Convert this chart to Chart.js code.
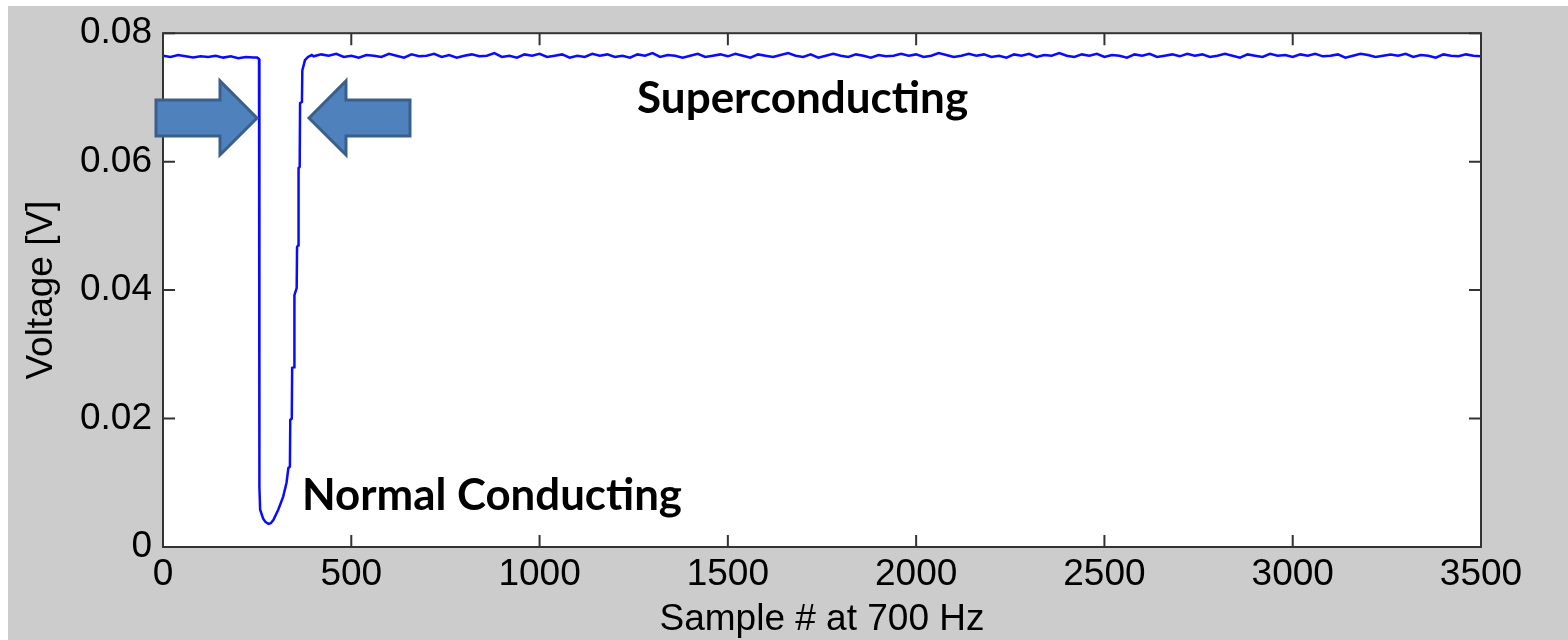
<!DOCTYPE html>
<html>
<head>
<meta charset="utf-8">
<script src="https://cdn.jsdelivr.net/npm/chart.js@4.4.0/dist/chart.umd.min.js"></script>
<style>
  html, body { margin: 0; padding: 0; background: #fff; }
  canvas { display: block; }
</style>
</head>
<body>
<canvas id="myChartQuench" width="1568" height="640"></canvas>
<script>
// axis ticks
const xTicks = [0, 500, 1000, 1500, 2000, 2500, 3000, 3500];
const yTicks = [0, 0.02, 0.04, 0.06, 0.08];

// trace (voltage in mV)
const flatStep = 20;
const leftVolts_mV = [76.5, 76.3, 76.6, 76.4, 76.2, 76.4, 76.3, 76.5, 76.2, 76.4, 76.1, 76.3, 76.2];

const dipSamples = [250, 255, 256, 258, 266, 272, 280, 286, 293, 306, 319, 328, 333, 337, 338,
  342, 343, 348, 349, 355, 356, 359, 360, 363, 364, 369, 370, 377, 385, 395];
const dipVolts_mV = [76.2, 76.0, 9.3, 5.8, 4.4, 3.9, 3.6, 3.7, 4.2, 5.8, 7.8, 10.0, 12.3, 12.5, 19.8,
  20.0, 27.9, 28.0, 39.2, 40.3, 46.7, 47.0, 59.0, 59.2, 69.1, 69.3, 74.2, 75.8, 76.3, 76.6];

const rightStart = 400;
const rightVolts_mV = [
  76.4, 76.7, 76.5, 76.8, 76.3, 76.5, 76.2, 76.6, 76.5, 76.3, 76.8, 76.5, 76.2,
  76.7, 76.4, 76.5, 76.8, 76.3, 76.6, 76.2, 76.5, 76.7, 76.4, 76.5, 76.9, 76.3,
  76.5, 76.2, 76.7, 76.5, 76.8, 76.3, 76.5, 76.7, 76.2, 76.5, 76.3, 76.8, 76.5,
  76.7, 76.3, 76.5, 76.2, 76.7, 76.5, 76.9, 76.3, 76.6, 76.5, 76.2, 76.5, 76.8,
  76.3, 76.5, 76.7, 76.4, 76.8, 76.5, 76.2, 76.7, 76.5, 76.3, 76.6, 76.9, 76.5,
  76.3, 76.7, 76.2, 76.5, 76.8, 76.5, 76.3, 76.7, 76.5, 76.2, 76.6, 76.4, 76.5,
  76.8, 76.5, 76.7, 76.3, 76.5, 76.9, 76.6, 76.3, 76.5, 76.8, 76.5, 76.7, 76.3,
  76.5, 76.2, 76.7, 76.5, 76.8, 76.3, 76.6, 76.5, 76.9, 76.5, 76.3, 76.7, 76.5,
  76.8, 76.3, 76.6, 76.5, 76.2, 76.7, 76.5, 76.8, 76.3, 76.5, 76.7, 76.4, 76.8,
  76.5, 76.7, 76.3, 76.5, 76.8, 76.5, 76.2, 76.7, 76.5, 76.3, 76.8, 76.5, 76.6,
  76.3, 76.7, 76.5, 76.8, 76.4, 76.5, 76.7, 76.2, 76.5, 76.8, 76.6, 76.3, 76.5,
  76.7, 76.5, 76.8, 76.3, 76.6, 76.5, 76.2, 76.7, 76.5, 76.4, 76.7, 76.5, 76.4
];

// text labels placed in data coordinates
const labelSuper = {text: 'Superconducting', sample: 1259, volts: 0.0675, width: 331};
const labelNormal = {text: 'Normal Conducting', sample: 369, volts: 0.00576, width: 380};
const arrowTips = [{sample: 249.6, volts: 0.0668, dir: 1}, {sample: 387.7, volts: 0.0668, dir: -1}];

const points = [];
leftVolts_mV.forEach((v, i) => points.push({x: i * flatStep, y: v / 1000}));
dipSamples.forEach((s, i) => points.push({x: s, y: dipVolts_mV[i] / 1000}));
rightVolts_mV.forEach((v, i) => points.push({x: rightStart + i * flatStep, y: v / 1000}));

const axisFont = {family: "'Liberation Sans', Arial, sans-serif", size: 37};

function drawArrow(ctx, tx, ty, dir) {
  const len = 101, head = 37, hh = 37, sh = 18;
  ctx.beginPath();
  ctx.moveTo(tx, ty);
  ctx.lineTo(tx - dir * head, ty - hh);
  ctx.lineTo(tx - dir * head, ty - sh);
  ctx.lineTo(tx - dir * len, ty - sh);
  ctx.lineTo(tx - dir * len, ty + sh);
  ctx.lineTo(tx - dir * head, ty + sh);
  ctx.lineTo(tx - dir * head, ty + hh);
  ctx.closePath();
  ctx.fillStyle = '#4f81bd';
  ctx.fill();
  ctx.lineWidth = 3;
  ctx.lineJoin = 'miter';
  ctx.strokeStyle = '#3a5f8b';
  ctx.stroke();
}

function fittedText(ctx, lbl, x, y) {
  ctx.save();
  ctx.font = "bold 43px Lato, 'Open Sans', sans-serif";
  ctx.fillStyle = '#000';
  ctx.textBaseline = 'alphabetic';
  ctx.textAlign = 'left';
  const w = ctx.measureText(lbl.text).width;
  ctx.translate(x, y);
  ctx.scale(lbl.width / w, 1);
  ctx.fillText(lbl.text, 0, 0);
  ctx.restore();
}

const framePlugin = {
  id: 'frame',
  beforeDraw(chart) {
    const {ctx, chartArea: a, width, height} = chart;
    ctx.save();
    ctx.fillStyle = '#ffffff';
    ctx.fillRect(0, 0, width, height);
    ctx.fillStyle = '#cccccc';
    ctx.fillRect(8, 6, width - 8, height - 6);
    ctx.fillStyle = '#ffffff';
    ctx.fillRect(a.left, a.top, a.right - a.left, a.bottom - a.top);
    ctx.restore();
  },
  afterDatasetsDraw(chart) {
    const {ctx, chartArea: a, scales: {x, y}} = chart;
    const tl = 12;
    ctx.save();
    ctx.strokeStyle = '#333333';
    ctx.lineWidth = 2;
    ctx.beginPath();
    xTicks.forEach(v => {
      const px = x.getPixelForValue(v);
      ctx.moveTo(px, a.bottom); ctx.lineTo(px, a.bottom - tl);
      ctx.moveTo(px, a.top); ctx.lineTo(px, a.top + tl);
    });
    yTicks.forEach(v => {
      const py = y.getPixelForValue(v);
      ctx.moveTo(a.left, py); ctx.lineTo(a.left + tl, py);
      ctx.moveTo(a.right, py); ctx.lineTo(a.right - tl, py);
    });
    ctx.stroke();
    ctx.strokeRect(a.left, a.top, a.right - a.left, a.bottom - a.top);
    ctx.restore();
  },
  afterDraw(chart) {
    const {ctx, scales: {x, y}} = chart;
    ctx.save();
    arrowTips.forEach(t => drawArrow(ctx, x.getPixelForValue(t.sample), y.getPixelForValue(t.volts), t.dir));
    [labelSuper, labelNormal].forEach(l => fittedText(ctx, l, x.getPixelForValue(l.sample), y.getPixelForValue(l.volts)));
    ctx.restore();
  }
};

const ctx = document.getElementById('myChartQuench').getContext('2d');
const myChartQuench = new Chart(ctx, {
  type: 'line',
  data: {
    datasets: [{
      label: 'Voltage',
      data: points,
      borderColor: '#0a0aff',
      borderWidth: 2.5,
      pointRadius: 0,
      tension: 0,
      fill: false
    }]
  },
  options: {
    responsive: false,
    animation: false,
    devicePixelRatio: 1,
    layout: {padding: {left: 0, top: 33, right: 87, bottom: 0}},
    plugins: {legend: {display: false}, tooltip: {enabled: false}},
    scales: {
      x: {
        type: 'linear',
        min: 0,
        max: 3500,
        afterBuildTicks: (s) => { s.ticks = xTicks.map(v => ({value: v})); },
        afterFit: (s) => { s.height = 93; },
        grid: {display: false, drawTicks: false},
        border: {display: false},
        ticks: {font: axisFont, color: '#000', padding: 6, maxRotation: 0, autoSkip: false,
          callback: (v) => String(v)},
        title: {display: true, text: 'Sample # at 700 Hz', color: '#000',
          font: {family: axisFont.family, size: 37, lineHeight: 1}, padding: {top: 0, bottom: 2}}
      },
      y: {
        type: 'linear',
        min: 0,
        max: 0.08,
        afterBuildTicks: (s) => { s.ticks = yTicks.map(v => ({value: v})); },
        afterFit: (s) => { s.width = 163; },
        grid: {display: false, drawTicks: false},
        border: {display: false},
        ticks: {font: axisFont, color: '#000', padding: 11, callback: (v) => String(v)},
        title: {display: true, text: 'Voltage [V]', color: '#000',
          font: {family: axisFont.family, size: 37, lineHeight: 1}, padding: {top: 23, bottom: 0}}
      }
    }
  },
  plugins: [framePlugin]
});
</script>
</body>
</html>
